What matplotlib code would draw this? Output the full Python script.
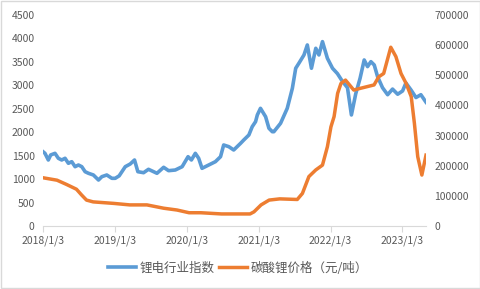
import numpy as np
import pandas as pd
import matplotlib
matplotlib.use("Agg")
import matplotlib.pyplot as plt
from matplotlib.patches import Rectangle

plt.rcParams['font.family'] = ['Noto Sans CJK SC', 'DejaVu Sans']

# 锂电行业指数
index_dates = ['2018-01-03', '2018-01-13', '2018-01-30', '2018-02-11', '2018-03-05', '2018-03-22',
               '2018-04-08', '2018-04-25', '2018-05-12', '2018-05-29', '2018-06-15', '2018-07-02',
               '2018-07-19', '2018-08-05', '2018-08-22', '2018-09-16', '2018-10-12', '2018-10-29',
               '2018-11-23', '2018-12-19', '2019-01-05', '2019-01-25', '2019-02-25', '2019-03-22',
               '2019-04-13', '2019-04-30', '2019-05-29', '2019-06-23', '2019-07-19', '2019-08-05',
               '2019-09-08', '2019-10-03', '2019-11-06', '2019-12-11', '2020-01-10', '2020-01-27',
               '2020-02-16', '2020-03-04', '2020-03-21', '2020-04-24', '2020-05-28', '2020-06-23',
               '2020-07-09', '2020-08-04', '2020-08-29', '2020-10-03', '2020-10-19', '2020-11-14',
               '2020-12-01', '2020-12-18', '2020-12-27', '2021-01-12', '2021-02-07', '2021-02-24',
               '2021-03-13', '2021-03-21', '2021-04-24', '2021-05-28', '2021-06-23', '2021-07-10',
               '2021-07-26', '2021-08-21', '2021-09-07', '2021-09-28', '2021-10-20', '2021-11-05',
               '2021-11-23', '2021-12-18', '2022-01-13', '2022-02-07', '2022-03-05', '2022-03-30',
               '2022-04-19', '2022-05-11', '2022-06-02', '2022-06-23', '2022-07-10', '2022-07-27',
               '2022-08-13', '2022-08-30', '2022-09-24', '2022-10-20', '2022-11-14', '2022-12-10',
               '2023-01-04', '2023-01-21', '2023-02-16', '2023-03-13', '2023-04-07', '2023-05-03']
index_values = [1585, 1550, 1408, 1515, 1550, 1444,
                1408, 1444, 1337, 1372, 1265, 1301,
                1265, 1158, 1124, 1088, 981, 1052,
                1088, 1017, 1017, 1070, 1265, 1322,
                1408, 1158, 1137, 1209, 1158, 1124,
                1252, 1180, 1194, 1265, 1478, 1408,
                1550, 1444, 1230, 1301, 1372, 1478,
                1728, 1692, 1621, 1764, 1834, 1941,
                2118, 2225, 2368, 2510, 2331, 2084,
                2011, 2011, 2190, 2510, 2937, 3364,
                3470, 3648, 3861, 3364, 3790, 3648,
                3932, 3577, 3364, 3250, 3080, 2950,
                2368, 2820, 3150, 3541, 3399, 3505,
                3434, 3185, 2950, 2800, 2920, 2810,
                2880, 3050, 2900, 2740, 2800, 2640]

# 碳酸锂价格（元/吨）
price_dates = ['2018-01-03', '2018-03-15', '2018-05-02', '2018-06-22', '2018-07-18', '2018-08-12',
               '2018-09-15', '2018-12-28', '2019-03-20', '2019-06-15', '2019-09-08', '2019-11-15',
               '2020-01-15', '2020-03-15', '2020-06-28', '2020-11-20', '2020-12-10', '2021-01-15',
               '2021-02-25', '2021-04-20', '2021-07-18', '2021-08-13', '2021-09-15', '2021-10-20',
               '2021-11-23', '2021-12-18', '2022-01-05', '2022-01-21', '2022-02-08', '2022-02-25',
               '2022-03-20', '2022-05-01', '2022-06-05', '2022-08-12', '2022-09-05', '2022-09-30',
               '2022-11-05', '2022-12-01', '2022-12-27', '2023-01-22', '2023-02-17', '2023-03-05',
               '2023-03-22', '2023-04-12', '2023-05-03']
price_values = [160000, 152000, 138000, 122000, 103000, 86000,
                80000, 75000, 70000, 70000, 59000, 53000,
                44000, 44000, 40000, 40000, 47000, 70000,
                86000, 90000, 88000, 108000, 164000, 186000,
                202000, 263000, 329000, 363000, 440000, 473000,
                484000, 451000, 457000, 468000, 495000, 506000,
                593000, 562000, 506000, 473000, 429000, 341000,
                230000, 169000, 235000]

xtick_labels = ['2018/1/3', '2019/1/3', '2020/1/3', '2021/1/3', '2022/1/3', '2023/1/3']
label_index = '锂电行业指数'
label_price = '碳酸锂价格（元/吨）'

blue = '#5B9BD5'
orange = '#ED7D31'
grey = '#595959'

idx_d = pd.to_datetime(index_dates)
pr_d = pd.to_datetime(price_dates)
tick_d = pd.to_datetime(xtick_labels, format='%Y/%m/%d')

fig = plt.figure(figsize=(4.81, 2.89), dpi=100)
ax = fig.add_axes([43 / 481, 63 / 289, 383 / 481, 211 / 289])
ax2 = ax.twinx()

ax.plot(idx_d, index_values, color=blue, lw=2.6, solid_joinstyle='round', label=label_index)
ax2.plot(pr_d, price_values, color=orange, lw=2.5, solid_joinstyle='round', label=label_price)

ax.set_xlim(idx_d[0], idx_d[-1])
ax.set_ylim(0, 4500)
ax2.set_ylim(0, 700000)
ax.set_yticks(np.arange(0, 4501, 500))
ax2.set_yticks(np.arange(0, 700001, 100000))
ax.set_xticks(tick_d)
ax.set_xticklabels(xtick_labels)

for a in (ax, ax2):
    for s in a.spines.values():
        s.set_visible(False)
ax.spines['bottom'].set_visible(True)
ax.spines['bottom'].set_color('#D9D9D9')
ax.tick_params(axis='x', colors='#D9D9D9', length=4, width=0.8, labelcolor=grey, labelsize=7.5, pad=3)
ax.tick_params(axis='y', length=0, labelcolor=grey, labelsize=7.5, pad=6)
ax2.tick_params(axis='y', length=0, labelcolor=grey, labelsize=7.5, pad=6)

h1, l1 = ax.get_legend_handles_labels()
h2, l2 = ax2.get_legend_handles_labels()
fig.legend(h1 + h2, l1 + l2, loc='center', bbox_to_anchor=(0.495, 21 / 289), ncol=2,
           frameon=False, fontsize=9, handlelength=2.2, columnspacing=0.4, handletextpad=0.3,
           labelcolor=grey)

fig.patches.append(Rectangle((0.002, 0.003), 0.995, 0.994, transform=fig.transFigure,
                             fill=False, edgecolor='#D9D9D9', lw=1))

fig.savefig('out.png', dpi=100)
